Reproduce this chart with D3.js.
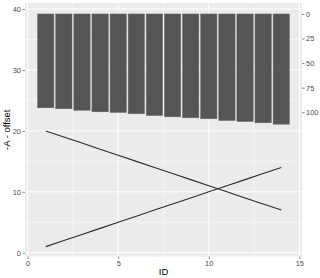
<!DOCTYPE html>
<html><head><meta charset="utf-8">
<script src="https://cdn.jsdelivr.net/npm/d3@7"></script>
<style>html,body{margin:0;padding:0;background:#fff;}svg{display:block;}</style>
</head><body>
<script>
const ids = [1,2,3,4,5,6,7,8,9,10,11,12,13,14];
const lineUp = [1,2,3,4,5,6,7,8,9,10,11,12,13,14];
const lineDown = [20,19,18,17,16,15,14,13,12,11,10,9,8,7];
const barValues = [95.5,96.5,98.0,99.6,100.3,101.6,103.4,104.7,105.7,106.7,108.5,109.5,110.8,112.2];
const xTicks = [0,5,10,15];
const yTicks = [0,10,20,30,40];
const secTicks = [0,25,50,75,100];
const offset = 39.2;
const secFactor = 6.2;

const W = 320, H = 278;
const L = 25, R = 302, T = 3, B = 256.5;
const svg = d3.select("body").append("svg").attr("width", W).attr("height", H);

const x = d3.scaleLinear().domain([-0.145, 15.145]).range([L, R]);
const y = d3.scaleLinear().domain([-0.62, 41.0]).range([B, T]);
// secondary axis: value s corresponds to primary offset - s/secFactor
const ySec = d3.scaleLinear().domain([0, 100]).range([y(offset), y(offset - 100/secFactor)]);

svg.append("rect").attr("x", L).attr("y", T).attr("width", R-L).attr("height", B-T).attr("fill", "#ebebeb");

// minor grid
const g = svg.append("g");
[2.5,7.5,12.5].forEach(v => g.append("line").attr("x1", x(v)).attr("x2", x(v)).attr("y1", T).attr("y2", B).attr("stroke", "#fff").attr("stroke-width", 0.5));
[5,15,25,35].forEach(v => g.append("line").attr("x1", L).attr("x2", R).attr("y1", y(v)).attr("y2", y(v)).attr("stroke", "#fff").attr("stroke-width", 0.5));
xTicks.forEach(v => g.append("line").attr("x1", x(v)).attr("x2", x(v)).attr("y1", T).attr("y2", B).attr("stroke", "#fff").attr("stroke-width", 1));
yTicks.forEach(v => g.append("line").attr("x1", L).attr("x2", R).attr("y1", y(v)).attr("y2", y(v)).attr("stroke", "#fff").attr("stroke-width", 1));

// bars
svg.append("g").selectAll("rect").data(ids).join("rect")
  .attr("x", (d) => x(d - 0.45))
  .attr("width", x(0.9) - x(0))
  .attr("y", ySec(0))
  .attr("height", (d, i) => ySec(barValues[i]) - ySec(0))
  .attr("fill", "#555555")
  .attr("stroke", "#6a6a6a").attr("stroke-width", 0.5);

// lines
const line = d3.line().x(d => x(d[0])).y(d => y(d[1]));
[lineUp, lineDown].forEach(arr => {
  svg.append("path").datum(ids.map((d, i) => [d, arr[i]]))
    .attr("d", line).attr("fill", "none").attr("stroke", "#2b2b2b").attr("stroke-width", 1.1);
});

// axes
const tickStyle = sel => {
  sel.select(".domain").remove();
  sel.selectAll(".tick line").attr("stroke", "#333").attr("stroke-width", 0.6);
  sel.selectAll(".tick text").attr("fill", "#4d4d4d").attr("font-family", "Liberation Sans, Arial, sans-serif").attr("font-size", 7.5);
};
svg.append("g").attr("transform", `translate(0,${B})`)
  .call(d3.axisBottom(x).tickValues(xTicks).tickSize(2.5).tickPadding(1.5).tickFormat(d3.format("d")))
  .call(tickStyle);
svg.append("g").attr("transform", `translate(${L},0)`)
  .call(d3.axisLeft(y).tickValues(yTicks).tickSize(2.5).tickPadding(1.5).tickFormat(d3.format("d")))
  .call(tickStyle);
svg.append("g").attr("transform", `translate(${R},0)`)
  .call(d3.axisRight(ySec).tickValues(secTicks).tickSize(2.5).tickPadding(1.5).tickFormat(d3.format("d")))
  .call(tickStyle);

// titles
svg.append("text").attr("x", (L+R)/2).attr("y", 275).attr("text-anchor", "middle")
  .attr("font-family", "Liberation Sans, Arial, sans-serif").attr("font-size", 9.5).attr("fill", "#000").text("ID");
svg.append("text").attr("transform", `translate(10,${(T+B)/2}) rotate(-90)`).attr("text-anchor", "middle")
  .attr("font-family", "Liberation Sans, Arial, sans-serif").attr("font-size", 9.5).attr("fill", "#000").text("-A - offset");
</script>
</body></html>
